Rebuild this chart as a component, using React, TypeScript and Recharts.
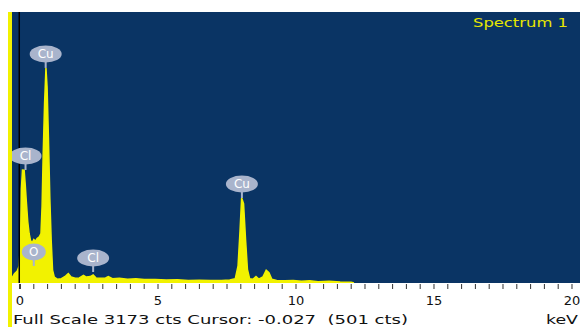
import { AreaChart, Area, XAxis, YAxis, CartesianGrid, ReferenceLine, ReferenceDot } from 'recharts'

// EDS spectrum, energy (keV) vs counts
const spectrumKev = [
  -0.29, -0.2, -0.1, -0.03, 0.02, 0.05, 0.09, 0.15, 0.19, 0.23, 0.28, 0.33, 0.38, 0.44, 0.5, 0.56, 0.62, 0.7, 0.76,
  0.8, 0.84, 0.89, 0.94, 0.98, 1.03, 1.08, 1.13, 1.18, 1.24, 1.35, 1.5, 1.65, 1.75, 1.85, 2.0, 2.15, 2.3, 2.4,
  2.55, 2.65, 2.75, 2.9, 3.1, 3.2, 3.35, 3.6, 3.9, 4.2, 4.5, 4.9, 5.3, 5.7, 6.1, 6.5, 6.9, 7.3, 7.6, 7.8, 7.9,
  7.97, 8.03, 8.1, 8.17, 8.24, 8.32, 8.45, 8.55, 8.65, 8.8, 8.92, 9.02, 9.12, 9.3, 9.6, 9.9, 10.2, 10.5, 10.8,
  11.2, 11.6, 12.0, 12.1,
]
const spectrumCts = [
  60, 110, 140, 200, 500, 1100, 1323, 1320, 1150, 950, 720, 580, 500, 470, 510, 490, 520, 540, 580,
  900, 1500, 2100, 2518, 2300, 1700, 1000, 500, 150, 70, 45, 50, 80, 110, 70, 55, 60, 90, 70,
  75, 95, 60, 55, 60, 75, 50, 55, 45, 50, 40, 42, 35, 38, 30, 32, 28, 30, 35, 50, 200,
  600, 995, 930, 520, 160, 50, 45, 75, 45, 70, 150, 120, 45, 30, 25, 30, 20, 25, 15,
  20, 12, 10, 0,
]

// peak markers
const peakNames = ['Cu', 'Cl', 'O', 'Cl', 'Cu']
const peakKev = [0.93, 0.2, 0.5, 2.65, 8.04]
const peakCts = [2518, 1323, 199, 129, 995]

const tickValues = Array.from({ length: 41 }, (_, i) => i * 0.5)
const tickLabels = ['0', '5', '10', '15', '20']

const FULL_SCALE = 3173

const data = spectrumKev.map((kev, i) => ({ kev, cts: spectrumCts[i] }))

const BLUE = '#0a3464'
const YELLOW = '#f2f200'
const TAG = '#a9b4cc'

function KevTick({ x, y, payload }: any) {
  const v = payload.value as number
  const isMajor = Math.abs(v % 5) < 1e-6
  const label = isMajor ? tickLabels[Math.round(v / 5)] : null
  return (
    <g>
      <line x1={x} x2={x} y1={y + 1} y2={y + (v === 0 ? 6 : 6)} stroke={v === 0 ? '#000' : '#333'} strokeWidth={v === 0 ? 1.5 : 1} />
      {label != null && (
        <text x={x} y={y + 22} textAnchor="middle" fontSize={13} fontFamily="DejaVu Sans" fill="#111">
          {label}
        </text>
      )}
    </g>
  )
}

function PeakTag({ cx, cy, name }: any) {
  const rx = 8 + 4 * name.length
  return (
    <g>
      <line x1={cx} x2={cx} y1={cy} y2={cy - 7} stroke={TAG} strokeWidth={2} />
      <ellipse cx={cx} cy={cy - 14} rx={rx} ry={8.5} fill={TAG} />
      <text x={cx} y={cy - 10} textAnchor="middle" fontSize={12} fontFamily="DejaVu Sans" fill="#fff">
        {name}
      </text>
    </g>
  )
}

export default function App() {
  return (
    <div style={{ position: 'absolute', left: 0, top: 0, width: 580, height: 327, overflow: 'hidden', background: '#fff' }}>
      <AreaChart width={580} height={327} data={data} margin={{ top: 12, right: 0, bottom: 0, left: 12 }}>
        <CartesianGrid fill={BLUE} horizontal={false} vertical={false} />
        <XAxis
          type="number"
          dataKey="kev"
          domain={[-0.29, 20.29]}
          ticks={tickValues}
          interval={0}
          tick={<KevTick />}
          tickLine={false}
          axisLine={false}
          tickSize={0}
          tickMargin={0}
          height={44}
          allowDataOverflow
        />
        <YAxis hide domain={[0, FULL_SCALE]} allowDataOverflow />
        <Area
          type="linear"
          dataKey="cts"
          stroke={YELLOW}
          strokeWidth={1.5}
          fill={YELLOW}
          fillOpacity={1}
          dot={false}
          activeDot={false}
          isAnimationActive={false}
        />
        <ReferenceLine x={-0.027} stroke="#000" strokeWidth={1.5} />
        {peakNames.map((name, i) => (
          <ReferenceDot
            key={i}
            x={peakKev[i]}
            y={peakCts[i]}
            r={0}
            shape={(p: any) => <PeakTag {...p} name={name} />}
          />
        ))}
      </AreaChart>
      <div style={{ position: 'absolute', left: 8, top: 12, width: 4, height: 315, background: YELLOW }} />
      <svg width={580} height={327} style={{ position: 'absolute', left: 0, top: 0, pointerEvents: 'none' }}>
        <text x={473} y={27} fontSize={12} fontFamily="DejaVu Sans" fill="#e6e600" textLength={95} lengthAdjust="spacingAndGlyphs">
          Spectrum 1
        </text>
        <text x={13} y={324} fontSize={13} fontFamily="DejaVu Sans" fill="#111" textLength={395} lengthAdjust="spacingAndGlyphs" xmlSpace="preserve">
          Full Scale 3173 cts Cursor: -0.027  (501 cts)
        </text>
        <text x={546} y={324} fontSize={13} fontFamily="DejaVu Sans" fill="#111" textLength={32} lengthAdjust="spacingAndGlyphs">
          keV
        </text>
      </svg>
    </div>
  )
}
